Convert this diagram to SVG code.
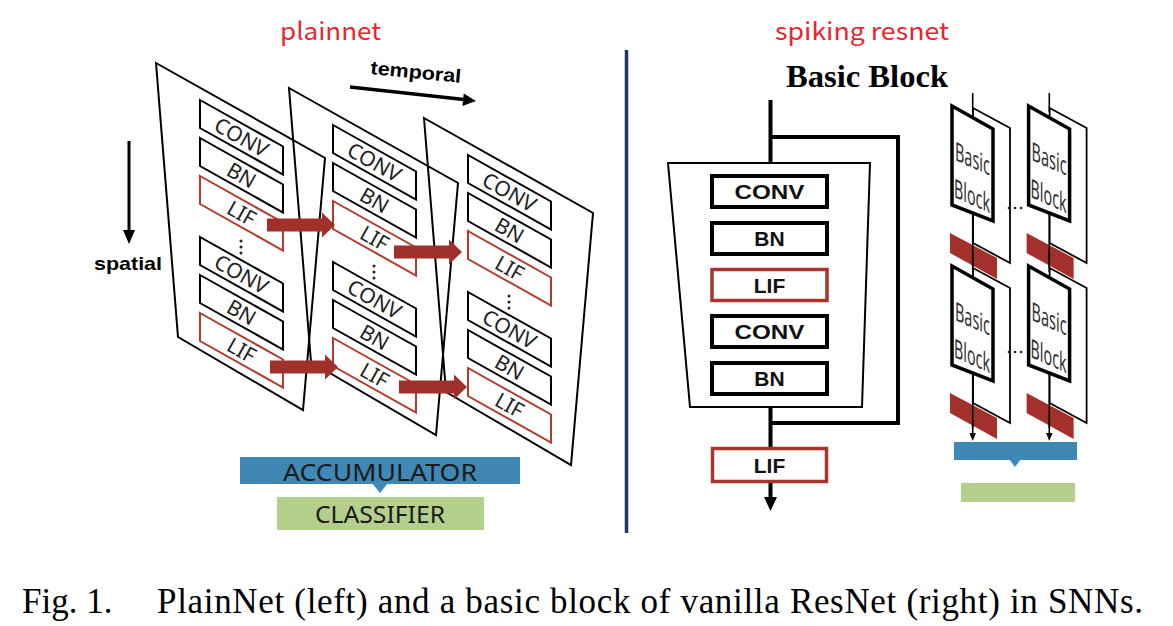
<svg xmlns="http://www.w3.org/2000/svg" xmlns:xlink="http://www.w3.org/1999/xlink" width="1173" height="626" viewBox="0 0 1173 626">
<style>
.sheet{fill:none;stroke:#000;stroke-width:2}
.pbox{fill:#fff;stroke:#000;stroke-width:2}
.pbox.lif{stroke:#B23A2E}
.plbl{font-family:"Noto Sans","Open Sans",sans-serif;font-size:21px;fill:#222;text-anchor:middle}
.redarrow{fill:#A0302A}
.bold{font-family:"Liberation Sans",Arial,sans-serif;font-weight:bold;fill:#000}
.serifbold{font-family:"Liberation Serif","Times New Roman",serif;font-weight:bold;font-size:32px;fill:#000}
.title{font-family:"Noto Sans CJK SC","Noto Sans",sans-serif;font-size:24px;fill:#E8262D}
.bbox{fill:#fff;stroke:#000;stroke-width:4}
.bbox.lif{stroke:#A8342B;stroke-width:3.5}
.blbl{font-family:"Liberation Sans",Arial,sans-serif;font-weight:bold;font-size:21px;fill:#111;text-anchor:middle}
.wire{fill:none;stroke:#000;stroke-width:4}
.thin{fill:none;stroke:#000;stroke-width:1.6}
.bb-front{fill:#fff;stroke:#000;stroke-width:3.5}
.bb-back{fill:#fff;stroke:#000;stroke-width:1.8}
.bb-lbl{font-family:"Noto Sans","Open Sans",sans-serif;font-size:26px;fill:#333}
.redbar{fill:#A3302A}
.acc{fill:#3F88B5}
.cls{fill:#B4CF8C}
.bar-lbl{font-family:"Noto Sans","Liberation Sans",sans-serif;font-size:24px;fill:#1a1a1a;text-anchor:middle}
.caption{font-family:"Liberation Serif","Times New Roman",serif;font-size:35px;fill:#000}
</style>
<defs>
  <g id="stack">
    <polygon class="pbox" points="200,100 283,146.5 283,174.5 200,128"/>
    <text class="plbl" transform="translate(241.5,137.2) rotate(29.3)" y="7.5">CONV</text>
    <polygon class="pbox" points="200,138 283,184.5 283,212.5 200,166"/>
    <text class="plbl" transform="translate(241.5,175.2) rotate(29.3)" y="7.5">BN</text>
    <polygon class="pbox lif" points="200,176 283,222.5 283,250.5 200,204"/>
    <text class="plbl" transform="translate(241.5,213.2) rotate(29.3)" y="7.5">LIF</text>
    <circle cx="241" cy="241" r="1.5" fill="#222"/>
    <circle cx="241" cy="247" r="1.5" fill="#222"/>
    <circle cx="241" cy="253" r="1.5" fill="#222"/>
    <polygon class="pbox" points="200,237 283,283.5 283,311.5 200,265"/>
    <text class="plbl" transform="translate(241.5,274.2) rotate(29.3)" y="7.5">CONV</text>
    <polygon class="pbox" points="200,275 283,321.5 283,349.5 200,303"/>
    <text class="plbl" transform="translate(241.5,312.2) rotate(29.3)" y="7.5">BN</text>
    <polygon class="pbox lif" points="200,313 283,359.5 283,387.5 200,341"/>
    <text class="plbl" transform="translate(241.5,350.2) rotate(29.3)" y="7.5">LIF</text>
  </g>
  <path id="redarrow" class="redarrow" d="M-68,-6.5 H-13 V-12.5 L0,0 L-13,12.5 V6.5 H-68 Z"/>
  <g id="bblock">
    <polygon class="bb-back" points="973,108 1010,128 1010,263 973,243"/>
    <line class="thin" x1="972.7" y1="93" x2="972.7" y2="112"/>
    <polygon class="bb-front" points="952,106 993,129 993,221 952,205"/>
    <text class="bb-lbl" transform="translate(955,160) skewY(24)" textLength="35" lengthAdjust="spacingAndGlyphs">Basic</text>
    <text class="bb-lbl" transform="translate(954,197) skewY(24)" textLength="36" lengthAdjust="spacingAndGlyphs">Block</text>
    <polygon class="redbar" points="950,233 997,258 997,279 950,253"/>
    <line class="thin" x1="972.7" y1="214" x2="972.7" y2="268"/>
  </g>
</defs>

<!-- Titles -->
<text class="title" x="280" y="40" textLength="101" lengthAdjust="spacingAndGlyphs">plainnet</text>
<text class="title" x="775" y="40" textLength="174" lengthAdjust="spacingAndGlyphs">spiking resnet</text>

<!-- PlainNet sheets -->
<g id="sheet1">
  <polygon class="sheet" points="156,63 325,158 303,410 178,337"/>
  <use xlink:href="#stack" href="#stack"/>
</g>
<g id="sheet2" transform="translate(133,25)">
  <polygon class="sheet" points="156,63 325,158 303,410 178,337"/>
  <use xlink:href="#stack" href="#stack"/>
</g>
<g id="sheet3" transform="translate(268,55)">
  <polygon class="sheet" points="156,63 325,158 303,410 178,337"/>
  <use xlink:href="#stack" href="#stack"/>
</g>

<!-- spatial / temporal -->
<g id="spatial">
  <line x1="129" y1="141" x2="129" y2="232" stroke="#000" stroke-width="3"/>
  <polygon points="123,230 135,230 129,244" fill="#000"/>
  <text class="bold" x="94" y="270" font-size="19" textLength="68" lengthAdjust="spacingAndGlyphs">spatial</text>
</g>
<g id="temporal">
  <line x1="350" y1="87" x2="464" y2="99.5" stroke="#000" stroke-width="3.5"/>
  <polygon points="476,101 462.5,106 463.7,93.5" fill="#000"/>
  <text class="bold" transform="rotate(5.5,370,74)" x="370" y="74" font-size="19" textLength="91" lengthAdjust="spacingAndGlyphs">temporal</text>
</g>

<!-- temporal red arrows -->
<g id="connectors-left">
  <use xlink:href="#redarrow" href="#redarrow" transform="translate(335,225)"/>
  <use xlink:href="#redarrow" href="#redarrow" transform="translate(462,252)"/>
  <use xlink:href="#redarrow" href="#redarrow" transform="translate(338,367)"/>
  <use xlink:href="#redarrow" href="#redarrow" transform="translate(467,387)"/>
</g>

<!-- accumulator / classifier -->
<g id="accumulator">
  <rect class="acc" x="240" y="457" width="280" height="27"/>
  <polygon class="acc" points="372,483 388,483 380,493"/>
  <text class="bar-lbl" x="380" y="481" textLength="194" lengthAdjust="spacingAndGlyphs">ACCUMULATOR</text>
</g>
<g id="classifier">
  <rect class="cls" x="277" y="497" width="207" height="33"/>
  <text class="bar-lbl" x="380" y="523" textLength="130" lengthAdjust="spacingAndGlyphs">CLASSIFIER</text>
</g>

<!-- divider -->
<line x1="626.5" y1="50" x2="626.5" y2="533" stroke="#1F3A5C" stroke-width="3.5"/>

<!-- Basic Block -->
<text class="serifbold" x="786" y="87" textLength="162" lengthAdjust="spacingAndGlyphs">Basic Block</text>

<g id="connectors-block">
  <line class="wire" x1="770.5" y1="100" x2="770.5" y2="163"/>
  <path class="wire" d="M770.5,137 H898 V423 H770.5"/>
  <line class="wire" x1="770.5" y1="407" x2="770.5" y2="448"/>
  <line class="wire" x1="770.5" y1="483" x2="770.5" y2="499"/>
  <polygon points="764,497 777,497 770.5,511" fill="#000"/>
</g>
<g id="block-body">
  <polygon points="668,163 870,163 862,407 690,407" fill="none" stroke="#000" stroke-width="2"/>
</g>
<g id="b-conv1"><rect class="bbox" x="712" y="176" width="115" height="31"/><text class="blbl" x="769.5" y="199" textLength="70" lengthAdjust="spacingAndGlyphs">CONV</text></g>
<g id="b-bn1"><rect class="bbox" x="712" y="223" width="115" height="31"/><text class="blbl" x="769.5" y="246">BN</text></g>
<g id="b-lif1"><rect class="bbox lif" x="712" y="269.5" width="115" height="31"/><text class="blbl" x="769.5" y="292.5">LIF</text></g>
<g id="b-conv2"><rect class="bbox" x="712" y="316" width="115" height="31"/><text class="blbl" x="769.5" y="339" textLength="70" lengthAdjust="spacingAndGlyphs">CONV</text></g>
<g id="b-bn2"><rect class="bbox" x="712" y="363" width="115" height="31"/><text class="blbl" x="769.5" y="386">BN</text></g>
<g id="b-lif-out"><rect class="bbox lif" x="712.5" y="448.5" width="114" height="33"/><text class="blbl" x="769.5" y="472.5">LIF</text></g>

<!-- stacked basic blocks -->
<g id="bb-r1c1"><use xlink:href="#bblock" href="#bblock"/></g>
<g id="bb-r1c2"><use xlink:href="#bblock" href="#bblock" transform="translate(76.6,0)"/></g>
<g id="bb-r2c1"><use xlink:href="#bblock" href="#bblock" transform="translate(0,160)"/></g>
<g id="bb-r2c2"><use xlink:href="#bblock" href="#bblock" transform="translate(76.6,160)"/></g>
<g id="bb-dots" fill="#222">
  <circle cx="1009" cy="208" r="1.3"/><circle cx="1015" cy="208" r="1.3"/><circle cx="1021" cy="208" r="1.3"/>
  <circle cx="1009" cy="352" r="1.3"/><circle cx="1015" cy="352" r="1.3"/><circle cx="1021" cy="352" r="1.3"/>
</g>
<g id="connectors-right">
  <line class="thin" x1="972.7" y1="420" x2="972.7" y2="434"/>
  <polygon points="969.5,433 975.9,433 972.7,441" fill="#000"/>
  <line class="thin" x1="1049.3" y1="420" x2="1049.3" y2="434"/>
  <polygon points="1046.1,433 1052.5,433 1049.3,441" fill="#000"/>
</g>
<g id="bb-accumulator">
  <rect class="acc" x="954" y="442" width="123" height="18"/>
  <polygon class="acc" points="1009,459 1021,459 1015,467"/>
</g>
<g id="bb-classifier">
  <rect class="cls" x="961" y="483" width="114" height="19"/>
</g>

<!-- caption -->
<text class="caption" x="22" y="613">Fig. 1.</text>
<text class="caption" x="157" y="613" textLength="986" lengthAdjust="spacing">PlainNet (left) and a basic block of vanilla ResNet (right) in SNNs.</text>
</svg>
